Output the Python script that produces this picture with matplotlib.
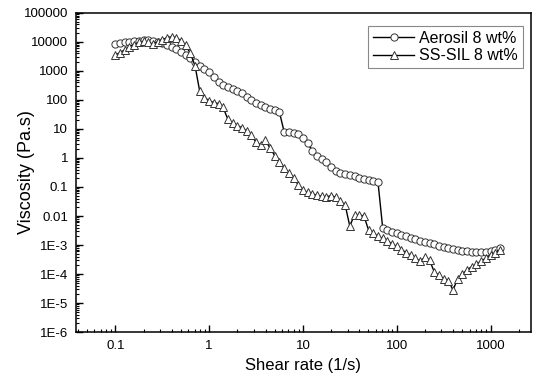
import matplotlib
matplotlib.use("Agg")
import matplotlib.pyplot as plt
from matplotlib.ticker import LogLocator, NullFormatter, FixedLocator, FixedFormatter

plt.rcParams['font.family'] = ['Liberation Sans', 'DejaVu Sans']

# shear rate (1/s), same sampling for both samples
shear_rate = [
    0.1, 0.112, 0.126, 0.141, 0.158, 0.178, 0.2, 0.224, 0.251, 0.282,
    0.316, 0.355, 0.398, 0.447, 0.501, 0.562, 0.631, 0.708, 0.794, 0.891,
    1.0, 1.12, 1.26, 1.41, 1.58, 1.78, 2.0, 2.24, 2.51, 2.82,
    3.16, 3.55, 3.98, 4.47, 5.01, 5.62, 6.31, 7.08, 7.94, 8.91,
    10.0, 11.2, 12.6, 14.1, 15.8, 17.8, 20.0, 22.4, 25.1, 28.2,
    31.6, 35.5, 39.8, 44.7, 50.1, 56.2, 63.1, 70.8, 79.4, 89.1,
    100, 112, 126, 141, 158, 178, 200, 224, 251, 282,
    316, 355, 398, 447, 501, 562, 631, 708, 794, 891,
    1000, 1122, 1259,
]

aerosil = [
    8500, 9000, 9500, 10000, 10500, 11000, 11500, 11500, 11000, 10000,
    9000, 7800, 6700, 5600, 4500, 3600, 2800, 2000, 1500, 1200,
    900, 600, 420, 320, 270, 240, 210, 170, 130, 100,
    80, 65, 55, 48, 44, 38, 7.9, 7.6, 7.4, 6.5,
    5.0, 3.2, 1.8, 1.2, 0.9, 0.7, 0.5, 0.35, 0.30, 0.27,
    0.25, 0.23, 0.21, 0.19, 0.18, 0.165, 0.15, 0.0040, 0.0034, 0.0029,
    0.0025, 0.0022, 0.0020, 0.0018, 0.0016, 0.0014, 0.0013, 0.0012, 0.0011, 0.00095,
    0.00088, 0.00080, 0.00074, 0.00068, 0.00064, 0.00060, 0.00058, 0.00056, 0.00056, 0.00058,
    0.00062, 0.00070, 0.00082,
]

ss_sil = [
    3500, 4200, 5300, 6700, 8000, 9500, 10500, 9500, 8500, 10000,
    11500, 14000, 15000, 14000, 11000, 7500, 4000, 1500, 200, 120,
    95, 80, 75, 55, 22, 16, 13, 11, 8.5, 6,
    3.5, 2.8, 4.0, 2.2, 1.2, 0.7, 0.45, 0.3, 0.2, 0.12,
    0.08, 0.065, 0.058, 0.052, 0.048, 0.046, 0.050, 0.045, 0.032, 0.024,
    0.0045, 0.011, 0.011, 0.010, 0.0033, 0.0026, 0.0020, 0.0017, 0.0014, 0.0011,
    0.0009, 0.0007, 0.00055, 0.00045, 0.00035, 0.00028, 0.00038, 0.00030, 0.00012, 0.00009,
    0.00007, 0.00006, 0.000028, 0.00007, 0.0001, 0.00014, 0.00018, 0.00022, 0.00028, 0.00035,
    0.00044, 0.00055, 0.00068,
]

y_ticks = [1e-6, 1e-5, 1e-4, 1e-3, 0.01, 0.1, 1, 10, 100, 1000, 10000, 100000]
y_tick_labels = ['1E-6', '1E-5', '1E-4', '1E-3', '0.01', '0.1', '1', '10',
                 '100', '1000', '10000', '100000']
x_ticks = [0.1, 1, 10, 100, 1000]
x_tick_labels = ['0.1', '1', '10', '100', '1000']

fig = plt.figure(figsize=(5.38, 3.77), dpi=100)
ax = fig.add_axes([0.141, 0.119, 0.846, 0.847])

ax.plot(shear_rate, aerosil, color='black', lw=1.0, marker='o', ms=5.2,
        mfc='white', mec='#333333', mew=0.7, label='Aerosil 8 wt%')
ax.plot(shear_rate, ss_sil, color='black', lw=1.0, marker='^', ms=5.6,
        mfc='white', mec='#333333', mew=0.7, label='SS-SIL 8 wt%')

ax.set_xscale('log')
ax.set_yscale('log')
ax.set_xlim(0.038, 2700)
ax.set_ylim(1e-6, 1e5)

ax.xaxis.set_major_locator(FixedLocator(x_ticks))
ax.xaxis.set_major_formatter(FixedFormatter(x_tick_labels))
ax.xaxis.set_minor_locator(LogLocator(base=10, subs=range(2, 10), numticks=20))
ax.xaxis.set_minor_formatter(NullFormatter())
ax.yaxis.set_major_locator(FixedLocator(y_ticks))
ax.yaxis.set_major_formatter(FixedFormatter(y_tick_labels))
ax.yaxis.set_minor_locator(LogLocator(base=10, subs=range(2, 10), numticks=20))
ax.yaxis.set_minor_formatter(NullFormatter())

ax.tick_params(which='both', direction='in', top=False, right=False,
               labelsize=9.5, pad=5.5)
ax.tick_params(which='major', length=5, width=1)
ax.tick_params(which='minor', length=2.5, width=0.8)
for s in ax.spines.values():
    s.set_linewidth(1.1)

ax.set_xlabel('Shear rate (1/s)', fontsize=12)
ax.set_ylabel('Viscosity (Pa.s)', fontsize=13)
ax.xaxis.set_label_coords(0.5, -0.08)
ax.yaxis.set_label_coords(-0.09, 0.5)

leg = ax.legend(loc='upper right', bbox_to_anchor=(0.982, 0.959),
                fontsize=11.5, fancybox=False, framealpha=1,
                borderaxespad=0, handlelength=2.6, handletextpad=0.3,
                borderpad=0.3, labelspacing=0.15)
leg.get_frame().set_edgecolor('#888888')
leg.get_frame().set_linewidth(0.8)

fig.savefig('out.png', dpi=100)
